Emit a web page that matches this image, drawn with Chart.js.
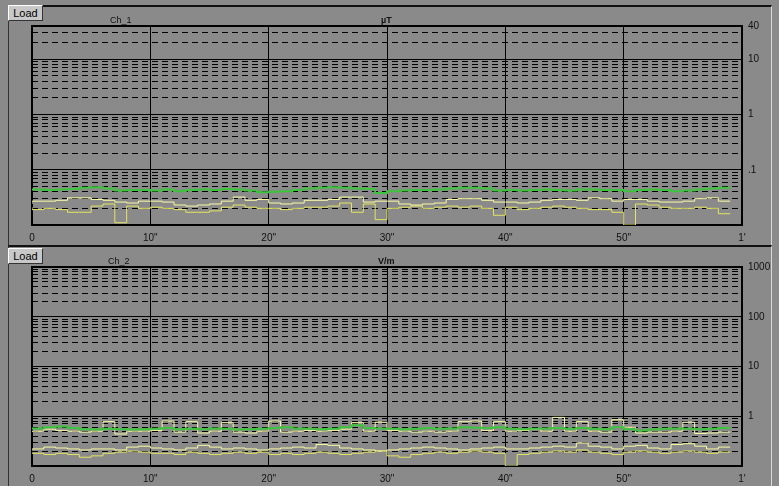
<!DOCTYPE html>
<html><head><meta charset="utf-8">
<script src="https://cdn.jsdelivr.net/npm/chart.js@4.4.1/dist/chart.umd.min.js"></script>
<style>
html,body{margin:0;padding:0;background:#8a8a8a;width:779px;height:486px;overflow:hidden;font-family:"Liberation Sans",Arial,sans-serif;}
.panel{position:absolute;left:8px;width:764px;box-sizing:border-box;border-top:2px solid #111;border-left:1px solid #333;border-right:1px solid #d8d8d8;z-index:0}
#p1{top:5px;height:241px;border-bottom:1px solid #111}
#p2{top:245px;height:241px;}
.load{position:absolute;left:8px;width:35px;height:16px;background:#c8c8c8;border-top:1px solid #fff;border-left:1px solid #fff;border-right:1px solid #333;border-bottom:1px solid #333;box-sizing:border-box;font-size:11px;line-height:14px;text-align:center;color:#000;z-index:3}
.lbl{position:absolute;font-size:9px;color:#111;z-index:3;white-space:nowrap}
canvas{position:absolute;left:0;z-index:1}
</style></head>
<body>
<div class="panel" id="p1"></div>
<div class="panel" id="p2"></div>
<canvas id="c1" width="779" height="245" style="top:0"></canvas>
<canvas id="c2" width="779" height="241" style="top:245px"></canvas>
<div class="load" style="top:5px">Load</div>
<div class="load" style="top:248px">Load</div>
<div class="lbl" style="left:110px;top:15px">Ch_1</div>
<div class="lbl" style="left:381px;top:15px;font-weight:bold">µT</div>
<div class="lbl" style="left:108px;top:256px">Ch_2</div>
<div class="lbl" style="left:378px;top:256px;font-weight:bold">V/m</div>
<script>
// ---- time categories (seconds) ----
const seconds = [0,1,2,3,4,5,6,7,8,9,10,11,12,13,14,15,16,17,18,19,20,21,22,23,24,25,26,27,28,29,30,31,32,33,34,35,36,37,38,39,40,41,42,43,44,45,46,47,48,49,50,51,52,53,54,55,56,57,58,59];
const xTickValues = [0,10,20,30,40,50,60];
const xTickLabels = ['0','10"','20"','30"','40"','50"',"1'"];

// ---- Ch_1 (µT) ----
const ch1TickValues = [0.01,0.1,1,10,40];
const ch1TickLabels = ['','.1','1','10','40'];
const ch1Green = [0.043,0.044,0.043,0.044,0.045,0.047,0.048,0.046,0.042,0.043,0.043,0.042,0.044,0.041,0.043,0.044,0.043,0.045,0.044,0.042,0.039,0.040,0.041,0.043,0.046,0.047,0.048,0.047,0.046,0.045,0.038,0.041,0.042,0.043,0.043,0.044,0.046,0.047,0.047,0.046,0.042,0.043,0.042,0.043,0.044,0.043,0.042,0.044,0.044,0.043,0.043,0.041,0.043,0.044,0.043,0.041,0.042,0.044,0.046,0.047];
const ch1YellowA = [0.024,0.027,0.027,0.028,0.031,0.031,0.029,0.028,0.026,0.025,0.027,0.027,0.026,0.023,0.022,0.023,0.024,0.027,0.032,0.028,0.029,0.025,0.024,0.025,0.028,0.028,0.029,0.032,0.032,0.026,0.027,0.027,0.024,0.023,0.024,0.025,0.029,0.030,0.030,0.028,0.026,0.026,0.025,0.026,0.028,0.029,0.029,0.028,0.031,0.030,0.027,0.029,0.029,0.027,0.026,0.026,0.027,0.030,0.031,0.027];
const ch1YellowB = [0.021,0.019,0.020,0.019,0.017,0.017,0.022,0.024,0.011,0.022,0.020,0.021,0.020,0.019,0.017,0.017,0.018,0.021,0.023,0.021,0.020,0.020,0.019,0.020,0.021,0.021,0.022,0.025,0.017,0.024,0.0125,0.020,0.021,0.022,0.020,0.021,0.022,0.021,0.022,0.020,0.015,0.021,0.019,0.020,0.021,0.022,0.021,0.020,0.019,0.019,0.017,0.010,0.024,0.023,0.021,0.020,0.020,0.021,0.020,0.016];

// ---- Ch_2 (V/m) ----
const ch2TickValues = [0.1,1,10,100,1000];
const ch2TickLabels = ['','1','10','100','1000'];
const ch2Green = [0.55,0.57,0.60,0.62,0.58,0.55,0.54,0.56,0.55,0.54,0.55,0.56,0.58,0.55,0.56,0.55,0.57,0.56,0.54,0.55,0.56,0.58,0.60,0.57,0.56,0.55,0.56,0.60,0.66,0.58,0.57,0.56,0.55,0.56,0.58,0.56,0.57,0.60,0.59,0.58,0.60,0.56,0.55,0.56,0.57,0.58,0.56,0.58,0.56,0.55,0.60,0.55,0.52,0.54,0.56,0.57,0.56,0.55,0.56,0.58];
const ch2YellowA = [0.48,0.50,0.55,0.52,0.50,0.48,0.50,0.78,0.44,0.50,0.50,0.52,0.80,0.48,0.78,0.46,0.50,0.74,0.48,0.46,0.50,0.80,0.48,0.50,0.52,0.50,0.52,0.55,0.74,0.50,0.76,0.52,0.50,0.48,0.50,0.48,0.50,0.78,0.80,0.52,0.78,0.50,0.52,0.55,0.50,0.95,0.50,0.78,0.50,0.48,0.85,0.60,0.46,0.48,0.48,0.50,0.76,0.45,0.46,0.48];
const ch2YellowB = [0.20,0.22,0.24,0.23,0.22,0.21,0.22,0.22,0.21,0.24,0.25,0.23,0.22,0.21,0.23,0.26,0.24,0.22,0.23,0.22,0.21,0.22,0.23,0.24,0.23,0.27,0.26,0.23,0.22,0.21,0.20,0.21,0.22,0.23,0.24,0.23,0.22,0.21,0.22,0.23,0.24,0.22,0.22,0.23,0.24,0.25,0.24,0.29,0.25,0.24,0.22,0.25,0.26,0.23,0.22,0.27,0.28,0.25,0.22,0.24];
const ch2YellowC = [0.19,0.18,0.17,0.18,0.17,0.15,0.16,0.18,0.19,0.20,0.19,0.18,0.18,0.17,0.19,0.18,0.17,0.18,0.19,0.18,0.19,0.17,0.18,0.17,0.18,0.19,0.18,0.17,0.18,0.19,0.20,0.16,0.15,0.17,0.18,0.19,0.18,0.19,0.20,0.19,0.18,0.10,0.17,0.18,0.19,0.20,0.19,0.21,0.19,0.18,0.17,0.19,0.20,0.19,0.18,0.19,0.20,0.19,0.18,0.19];

Chart.defaults.font.family = '"Liberation Sans", Arial, sans-serif';

function minorTicks(min, max) {
  const out = [];
  for (let e = -3; e <= 3; e++) {
    for (let m = 2; m <= 9; m++) {
      const v = +(m * Math.pow(10, e)).toPrecision(3);
      if (v > min * 1.0001 && v < max * 0.9999) out.push(v);
    }
  }
  return out;
}

const frame = {
  id: 'frame',
  beforeDatasetsDraw(c) {
    const {ctx, chartArea: a} = c;
    ctx.save();
    ctx.strokeStyle = '#000';
    ctx.lineWidth = 2;
    ctx.strokeRect(a.left, a.top, a.right - a.left, a.bottom - a.top);
    ctx.restore();
  }
};

function makeChart(id, cfg) {
  const minor = minorTicks(cfg.min, cfg.max);
  return new Chart(document.getElementById(id), {
    type: 'line',
    data: {
      datasets: cfg.series.map(s => ({
        data: seconds.map((t, i) => ({x: t, y: s.values[i]})),
        borderColor: s.color, borderWidth: s.width,
        pointRadius: 0, stepped: 'after', fill: false, tension: 0
      }))
    },
    options: {
      responsive: false, animation: false, events: [],
      layout: {padding: {left: 32, top: cfg.padTop, right: 0, bottom: 0}},
      plugins: {legend: {display: false}, tooltip: {enabled: false}, title: {display: false}},
      scales: {
        x: {
          type: 'linear', min: 0, max: 60, position: 'bottom',
          afterBuildTicks: s => { s.ticks = xTickValues.map(v => ({value: v})); },
          afterFit: s => { s.height = 20; },
          ticks: {autoSkip: false, maxRotation: 0, padding: 7, color: '#111', font: {size: 10},
                  callback: (v, i) => xTickLabels[i]},
          grid: {color: '#000', lineWidth: 1, drawTicks: false},
          border: {display: false}
        },
        y: {
          type: 'logarithmic', position: 'right', min: cfg.min, max: cfg.max,
          afterBuildTicks: s => { s.ticks = cfg.ticks.map(v => ({value: v})); },
          afterFit: s => { s.width = 37; },
          ticks: {autoSkip: false, padding: 6, color: '#111', font: {size: 10},
                  callback: (v, i) => cfg.labels[i]},
          grid: {color: '#000', lineWidth: 1, drawTicks: false},
          border: {display: false}
        },
        yMinor: {
          type: 'logarithmic', position: 'right', min: cfg.min, max: cfg.max,
          afterBuildTicks: s => { s.ticks = minor.map(v => ({value: v})); },
          afterFit: s => { s.width = 0; },
          ticks: {display: false},
          grid: {color: '#000', lineWidth: 1, drawTicks: false},
          border: {display: false, dash: [6, 4]}
        }
      }
    },
    plugins: [frame]
  });
}

makeChart('c1', {
  min: 0.01, max: 40, ticks: ch1TickValues, labels: ch1TickLabels, padTop: 26,
  series: [
    {values: ch1Green, color: '#3cc43c', width: 2},
    {values: ch1YellowA, color: '#fbfba4', width: 1},
    {values: ch1YellowB, color: '#e4e462', width: 1}
  ]
});
makeChart('c2', {
  min: 0.1, max: 1000, ticks: ch2TickValues, labels: ch2TickLabels, padTop: 22,
  series: [
    {values: ch2Green, color: '#3cc43c', width: 2},
    {values: ch2YellowA, color: '#fbfba4', width: 1},
    {values: ch2YellowB, color: '#fbfba4', width: 1},
    {values: ch2YellowC, color: '#e4e462', width: 1}
  ]
});
</script>
</body></html>
